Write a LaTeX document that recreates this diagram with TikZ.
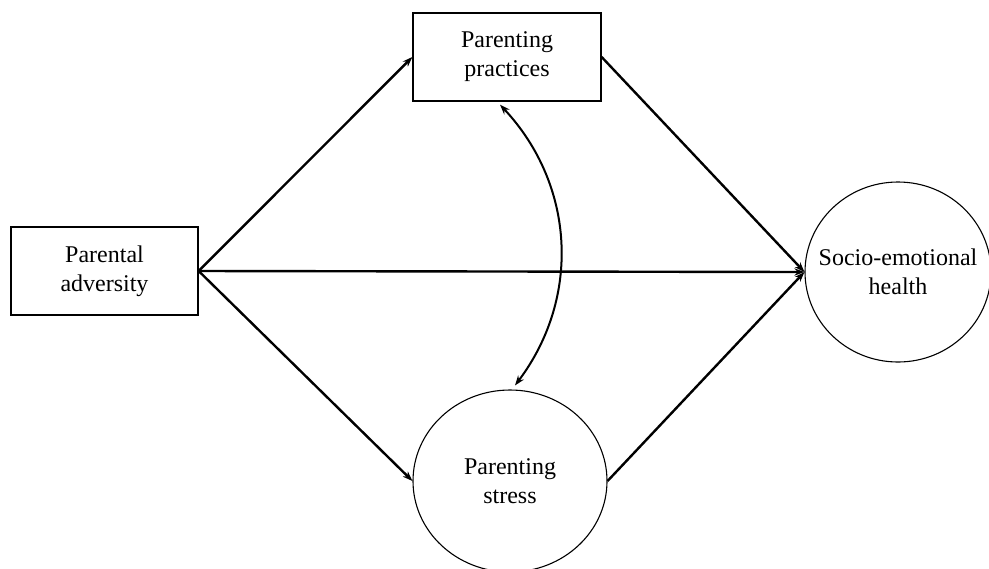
\documentclass[tikz,border=0pt]{standalone}
\usepackage{fontspec}
\setmainfont{Liberation Serif}
\usetikzlibrary{shapes.geometric,arrows.meta}
\begin{document}
\begin{tikzpicture}[x=0.5pt,y=-0.5pt,
  every node/.style={font=\fontsize{12}{14.5}\selectfont, align=center, inner sep=0pt},
  boxnode/.style={draw, line width=0.65pt, rectangle, minimum width=93.5pt, minimum height=44pt},
  ellnode/.style={draw, line width=0.55pt, ellipse},
  path/.style={line width=1.2pt, -{Stealth[length=5pt,width=3.6pt]}},
  corr/.style={line width=1pt, {Stealth[length=5pt,width=3.6pt]}-{Stealth[length=5pt,width=3.6pt]}}]
\useasboundingbox (0,0) rectangle (989,568);
\node[boxnode] (pa) at (104.5,271) {Parental\\adversity};
\node[boxnode, minimum width=94pt] (pp) at (507,57) {Parenting\\practices};
\node[ellnode, minimum width=93pt, minimum height=90pt,
  label={center:{Socio-emotional\\health}}] (se) at (898,272) {};
\node[ellnode, minimum width=97pt, minimum height=91pt] (ps) at (510,481) {Parenting\\stress};
\draw[path] (pa.east) -- (pp.west);
\draw[path] (pa.east) -- (ps.west);
\draw[path] (pa.east) -- (se.west);
\draw[path] (pp.east) -- (se.west);
\draw[path] (ps.east) -- (se.west);
\draw[corr] ([xshift=-3.5pt,yshift=-1.5pt]pp.south) to[bend left=40] ([xshift=2.5pt,yshift=2pt]ps.north);
\end{tikzpicture}
\end{document}
